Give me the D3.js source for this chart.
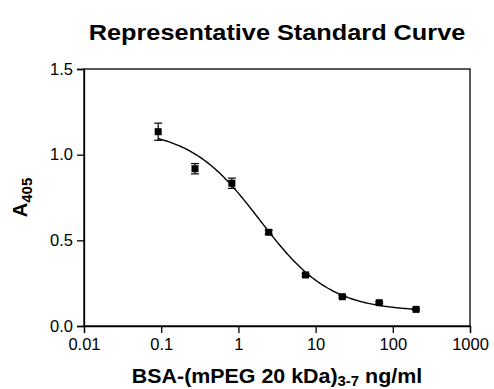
<!DOCTYPE html>
<html>
<head>
<meta charset="utf-8">
<script src="https://cdn.jsdelivr.net/npm/d3@7"></script>
<style>
  body { margin: 0; background: #fff; }
  text { font-family: "Liberation Sans", Arial, sans-serif; }
</style>
</head>
<body>
<svg id="chart"></svg>
<script>
let width = 494;
let height = 389;

// standard points (3-fold dilutions, ng/ml) and mean A405 +/- error
let conc = [0.0914, 0.274, 0.823, 2.47, 7.41, 22.2, 66.7, 200];
let absorb = [1.134, 0.918, 0.833, 0.547, 0.298, 0.171, 0.136, 0.097];
let err = [0.05, 0.03, 0.03, 0.012, 0.008, 0.006, 0.006, 0.006];

let xTicks = [0.01, 0.1, 1, 10, 100, 1000];
let xTickLabels = ["0.01", "0.1", "1", "10", "100", "1000"];
let yTicks = [0.0, 0.5, 1.0, 1.5];

// 4PL fit of the curve (bottom, top, EC50, hill)
let fitBottom = 0.085, fitTop = 1.15, fitEC50 = 1.9, fitHill = 0.95;

let margin = {left: 84, right: 24, top: 69, bottom: 63};

let svg = d3.select("#chart")
    .attr("width", width)
    .attr("height", height);

let x = d3.scaleLog()
    .domain([0.01, 1000])
    .range([margin.left, width - margin.right]);

let y = d3.scaleLinear()
    .domain([0, 1.5])
    .range([height - margin.bottom, margin.top]);

// frame
svg.append("rect")
    .attr("x", x(0.01))
    .attr("y", y(1.5))
    .attr("width", x(1000) - x(0.01))
    .attr("height", y(0) - y(1.5))
    .attr("fill", "none")
    .attr("stroke", "#000")
    .attr("stroke-width", 1.3);

let xAxis = svg.append("g")
    .attr("transform", "translate(0," + y(0) + ")")
    .call(d3.axisBottom(x).tickValues(xTicks)
        .tickFormat((d, i) => xTickLabels[i]).tickSizeOuter(0).tickSize(7).tickPadding(5));

let yAxis = svg.append("g")
    .attr("transform", "translate(" + x(0.01) + ",0)")
    .call(d3.axisLeft(y).tickValues(yTicks)
        .tickFormat(d3.format(".1f")).tickSizeOuter(0).tickSize(7).tickPadding(4));

[xAxis, yAxis].forEach(function (g) {
    g.select(".domain").attr("stroke-width", 1.3);
    g.selectAll(".tick line").attr("stroke-width", 1.3);
    g.selectAll(".tick text")
        .attr("font-size", 16.5)
        .attr("font-family", "Liberation Sans, Arial, sans-serif")
        .attr("fill", "#000");
});

// fitted curve
let curvePts = d3.range(0, 201).map(function (i) {
    let c = Math.exp(Math.log(conc[0]) + i / 200 * (Math.log(conc[conc.length - 1]) - Math.log(conc[0])));
    return [c, fitBottom + (fitTop - fitBottom) / (1 + Math.pow(c / fitEC50, fitHill))];
});

svg.append("path")
    .datum(curvePts)
    .attr("fill", "none")
    .attr("stroke", "#000")
    .attr("stroke-width", 1.4)
    .attr("d", d3.line().x(d => x(d[0])).y(d => y(d[1])));

// error bars
let pts = conc.map((c, i) => ({c: c, a: absorb[i], e: err[i]}));

let eb = svg.append("g").selectAll("g")
    .data(pts)
    .enter().append("g");

eb.append("line")
    .attr("x1", d => x(d.c)).attr("x2", d => x(d.c))
    .attr("y1", d => y(d.a - d.e)).attr("y2", d => y(d.a + d.e))
    .attr("stroke", "#000").attr("stroke-width", 1.2);

[-1, 1].forEach(function (s) {
    eb.append("line")
        .attr("x1", d => x(d.c) - 4).attr("x2", d => x(d.c) + 4)
        .attr("y1", d => y(d.a + s * d.e)).attr("y2", d => y(d.a + s * d.e))
        .attr("stroke", "#000").attr("stroke-width", 1.2);
});

// markers
svg.append("g").selectAll("rect")
    .data(pts)
    .enter().append("rect")
    .attr("x", d => x(d.c) - 3.5)
    .attr("y", d => y(d.a) - 3.5)
    .attr("width", 7)
    .attr("height", 7)
    .attr("fill", "#000");

let midX = (x(0.01) + x(1000)) / 2;

// title
svg.append("text")
    .attr("transform", "translate(" + midX + ",40) scale(1.15,1)")
    .attr("text-anchor", "middle")
    .attr("font-size", 22)
    .attr("font-weight", "bold")
    .text("Representative Standard Curve");

// x label
let xl = svg.append("text")
    .attr("transform", "translate(" + midX + ",383) scale(1.07,1)")
    .attr("text-anchor", "middle")
    .attr("font-size", 20)
    .attr("font-weight", "bold");
xl.append("tspan").text("BSA-(mPEG 20 kDa)");
xl.append("tspan").attr("font-size", 14).attr("dy", 3).text("3-7");
xl.append("tspan").attr("dy", -3).text(" ng/ml");

// y label
let yl = svg.append("text")
    .attr("transform", "translate(27," + y(0.75) + ") rotate(-90)")
    .attr("text-anchor", "middle")
    .attr("font-size", 20)
    .attr("font-weight", "bold");
yl.append("tspan").text("A");
yl.append("tspan").attr("font-size", 15).attr("dy", 5).text("405");
</script>
</body>
</html>
